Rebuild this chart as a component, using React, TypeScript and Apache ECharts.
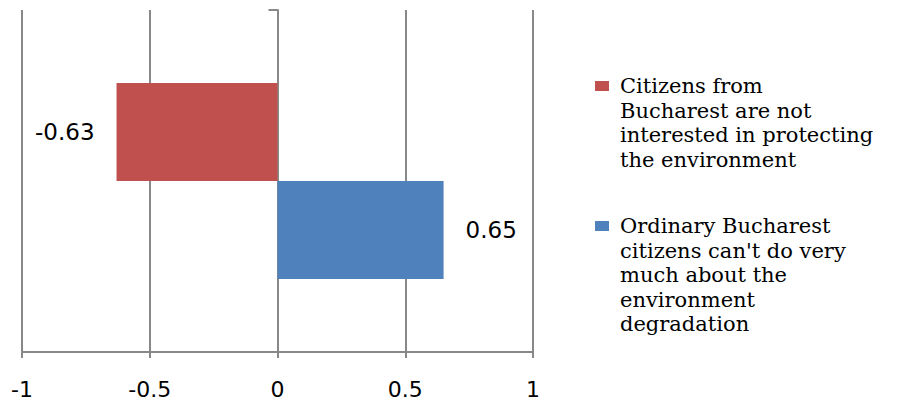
import React, { useEffect, useRef } from "react";
import * as echarts from "echarts";

const categories = [""];
const seriesNames = [
  "Citizens from\nBucharest are not\ninterested in protecting\nthe environment",
  "Ordinary Bucharest\ncitizens can't do very\nmuch about the\nenvironment\ndegradation",
];
const redValues = [-0.63];
const blueValues = [0.65];
const xTicks = { min: -1, max: 1, interval: 0.5 };

const GRID = "#888888";

export default function App() {
  const ref = useRef<HTMLDivElement>(null);
  useEffect(() => {
    if (!ref.current) return;
    const chart = echarts.init(ref.current, null, { renderer: "svg" });
    const legendText = {
      fontFamily: "DejaVu Serif",
      fontSize: 21,
      color: "#000",
      lineHeight: 24.5,
      padding: [0, 0, 0, 6],
    };
    // pad with blank lines above so the first text line sits beside the marker
    const padTop = (name: string) => {
      const n = name.split("\n").length;
      return "\n".repeat(n - 1) + name;
    };
    const legendBase = {
      orient: "vertical",
      left: 595,
      padding: 0,
      itemWidth: 14,
      itemHeight: 10,
      selectedMode: false,
      icon: "rect",
      textStyle: legendText,
      formatter: padTop,
    };
    chart.setOption({
      animation: false,
      backgroundColor: "#ffffff",
      grid: { left: 22, right: 368, top: 10, bottom: 49, containLabel: false },
      legend: [
        { ...legendBase, data: [seriesNames[0]], top: 0.25 },
        { ...legendBase, data: [seriesNames[1]], top: 115.75 },
      ],
      xAxis: {
        type: "value",
        min: xTicks.min,
        max: xTicks.max,
        interval: xTicks.interval,
        axisLine: { show: true, onZero: false, lineStyle: { color: GRID, width: 2 } },
        axisTick: { show: true, length: 6, lineStyle: { color: GRID, width: 2 } },
        splitLine: { show: true, lineStyle: { color: GRID, width: 2 } },
        axisLabel: {
          fontFamily: "DejaVu Sans",
          fontSize: 22,
          color: "#000",
          margin: 26,
          showMinLabel: true,
          showMaxLabel: true,
        },
      },
      yAxis: {
        type: "category",
        data: categories,
        axisLine: { show: true, onZero: true, lineStyle: { color: GRID, width: 2 } },
        axisTick: { show: true, length: 9, lineStyle: { color: GRID, width: 2 } },
        axisLabel: { show: false },
        splitLine: { show: false },
      },
      series: [
        {
          name: seriesNames[0],
          type: "bar",
          data: redValues,
          barGap: "0%",
          barCategoryGap: "42.7%",
          itemStyle: { color: "#C0504D" },
          label: {
            show: true,
            position: "left",
            distance: 22,
            fontFamily: "DejaVu Sans",
            fontSize: 23,
            color: "#000",
          },
        },
        {
          name: seriesNames[1],
          type: "bar",
          data: blueValues,
          barGap: "0%",
          barCategoryGap: "42.7%",
          itemStyle: { color: "#4F81BD" },
          label: {
            show: true,
            position: "right",
            distance: 22,
            fontFamily: "DejaVu Sans",
            fontSize: 23,
            color: "#000",
          },
        },
      ],
    });
    return () => chart.dispose();
  }, []);
  return (
    <div
      ref={ref}
      style={{ position: "fixed", left: 0, top: 0, width: 901, height: 401, background: "#fff" }}
    />
  );
}
